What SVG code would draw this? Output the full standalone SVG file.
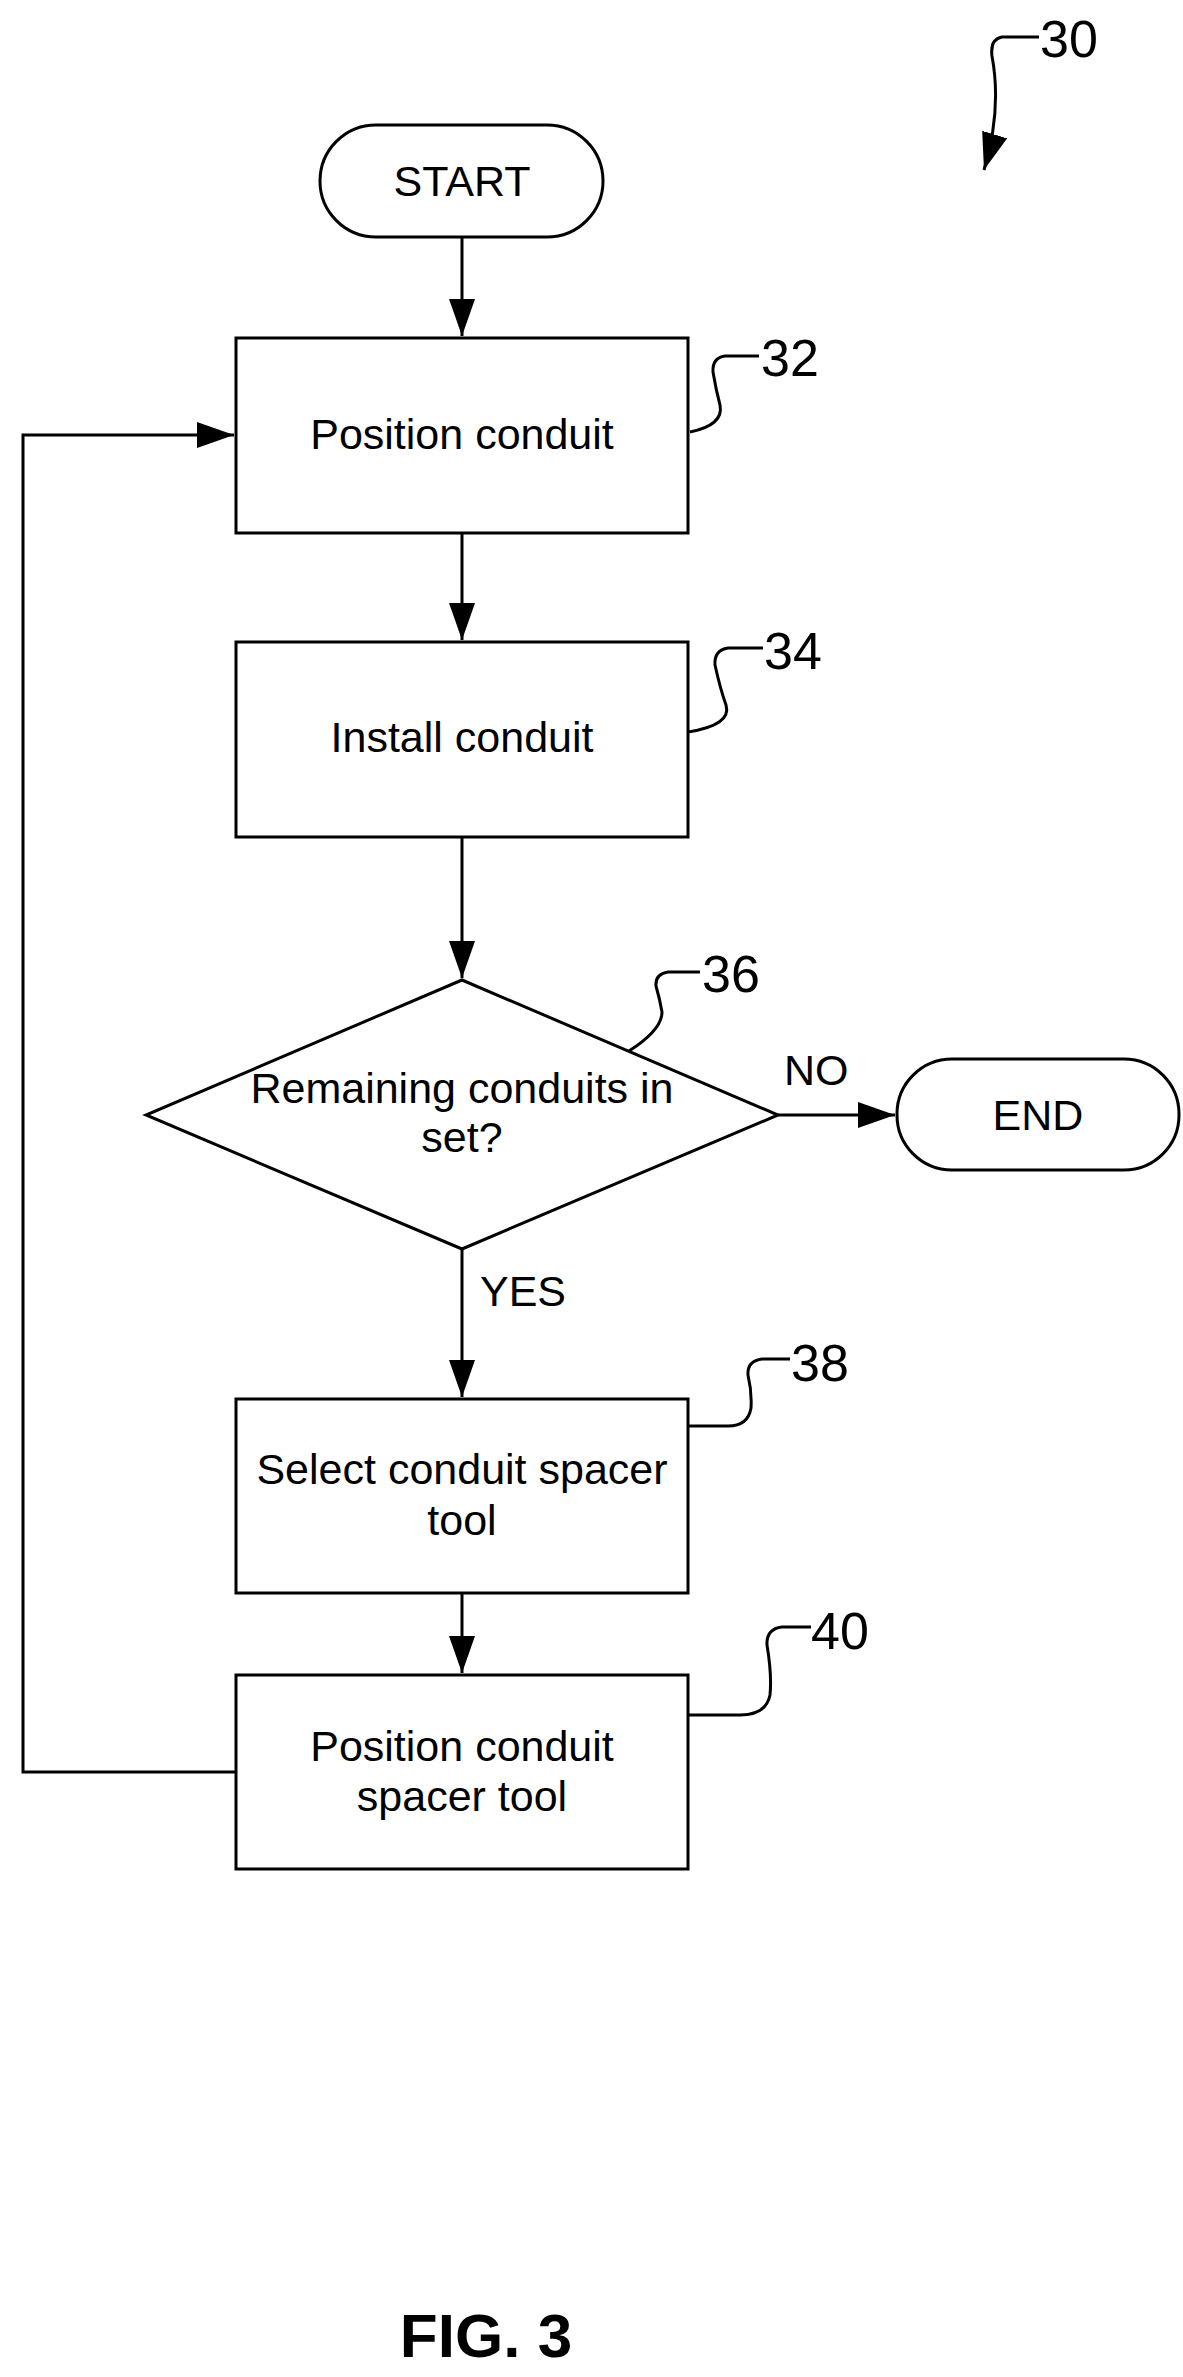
<svg xmlns="http://www.w3.org/2000/svg" width="1183" height="2377" viewBox="0 0 1183 2377">
<style>
.s{fill:#fff;stroke:#000;stroke-width:3}
.l{fill:none;stroke:#000;stroke-width:3}
.t{font-family:"Liberation Sans",Arial,sans-serif;font-size:43px;fill:#000;text-anchor:middle}
.n{font-family:"Liberation Sans",Arial,sans-serif;font-size:52px;fill:#000}
</style>
<defs>
<marker id="a" markerUnits="userSpaceOnUse" markerWidth="40" markerHeight="30" refX="37" refY="13" orient="auto"><path d="M0,0 L37,13 L0,26 Z" fill="#000"/></marker>
</defs>
<rect width="1183" height="2377" fill="#fff"/>
<g id="connectors">
<path class="l" d="M462,237 V336" marker-end="url(#a)"/>
<path class="l" d="M462,533 V640" marker-end="url(#a)"/>
<path class="l" d="M462,837 V978" marker-end="url(#a)"/>
<path class="l" d="M778,1115 H895" marker-end="url(#a)"/>
<path class="l" d="M462,1249 V1397" marker-end="url(#a)"/>
<path class="l" d="M462,1593 V1673" marker-end="url(#a)"/>
<path class="l" d="M236,1772 H23 V435 H234" marker-end="url(#a)"/>
<text class="t" x="784" y="1085" style="text-anchor:start">NO</text>
<text class="t" x="480" y="1306" style="text-anchor:start">YES</text>
</g>
<g id="ref30">
<text class="n" x="1040" y="57">30</text>
<path class="l" d="M1039,37 H1002 Q990,39 992,56 Q1002,110 984,170" marker-end="url(#a)"/>
</g>
<g id="start"><rect class="s" x="320" y="125" width="283" height="112" rx="56"/><text class="t" x="462" y="196">START</text></g>
<g id="n32"><rect class="s" x="236" y="338" width="452" height="195"/><text class="t" x="462" y="449">Position conduit</text>
<text class="n" x="761" y="376">32</text><path class="l" d="M759,356 H725 Q712,358 713,372 Q716,390 720,405 Q724,425 690,432"/></g>
<g id="n34"><rect class="s" x="236" y="642" width="452" height="195"/><text class="t" x="462" y="752">Install conduit</text>
<text class="n" x="764" y="669">34</text><path class="l" d="M763,648 H728 Q714,650 715,665 Q720,688 726,705 Q732,725 688,732"/></g>
<g id="n36"><path class="s" d="M462,980 L778,1115 L462,1249 L146,1115 Z"/><text class="t" x="462" y="1103">Remaining conduits in</text><text class="t" x="462" y="1152">set?</text>
<text class="n" x="702" y="992">36</text><path class="l" d="M700,972 H668 Q655,974 656,986 Q660,1000 662,1012 Q662,1030 629,1051"/></g>
<g id="end"><rect class="s" x="897" y="1059" width="282" height="111" rx="55"/><text class="t" x="1038" y="1130">END</text></g>
<g id="n38"><rect class="s" x="236" y="1399" width="452" height="194"/><text class="t" x="462" y="1484">Select conduit spacer</text><text class="t" x="462" y="1535">tool</text>
<text class="n" x="791" y="1381">38</text><path class="l" d="M790,1359 H762 Q747,1361 748,1375 Q752,1392 751,1408 Q748,1426 728,1426 H688"/></g>
<g id="n40"><rect class="s" x="236" y="1675" width="452" height="194"/><text class="t" x="462" y="1761">Position conduit</text><text class="t" x="462" y="1811">spacer tool</text>
<text class="n" x="811" y="1649">40</text><path class="l" d="M811,1627 H782 Q766,1629 767,1645 Q772,1675 770,1695 Q766,1715 740,1715 H688"/></g>
<text x="486" y="2357" style="font-family:'Liberation Sans',Arial,sans-serif;font-size:62px;font-weight:bold;text-anchor:middle">FIG. 3</text>
</svg>
